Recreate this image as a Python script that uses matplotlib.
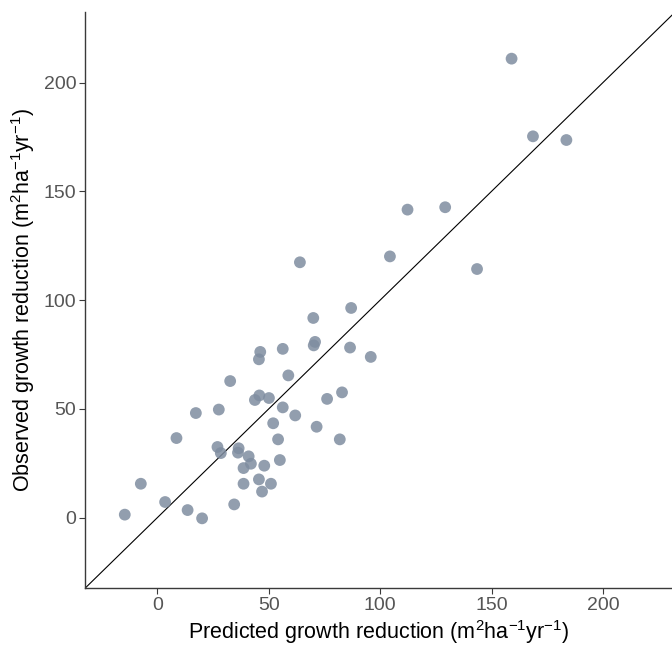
import matplotlib
matplotlib.use('Agg')
import matplotlib.pyplot as plt

plt.rcParams['font.family'] = ['Liberation Sans', 'DejaVu Sans']
plt.rcParams['mathtext.fontset'] = 'custom'
plt.rcParams['mathtext.rm'] = 'Liberation Sans'
plt.rcParams['mathtext.it'] = 'Liberation Sans:italic'

# predicted vs observed growth reduction
predicted = [-14.6, -7.4, 3.5, 8.6, 13.6, 20.1, 17.3, 27.6, 32.7, 27.0,
             28.5, 34.5, 36.5, 36.2, 41.0, 42.0, 38.7, 38.7, 45.6, 47.0,
             48.0, 51.0, 55.0, 54.2, 52.0, 56.3, 61.9, 45.8, 43.8, 50.1,
             45.6, 46.2, 56.3, 58.8, 71.5, 76.2, 82.9, 81.9, 70.2, 70.8,
             86.5, 95.8, 70.0, 64.0, 104.4, 87.0, 159.0, 168.6, 183.6, 112.3,
             129.2, 143.5]
observed = [1.4, 15.6, 7.2, 36.6, 3.5, -0.3, 48.1, 49.7, 62.8, 32.5,
            29.7, 6.1, 31.9, 29.9, 28.2, 24.8, 22.8, 15.6, 17.6, 12.0,
            23.9, 15.6, 26.5, 36.0, 43.4, 50.7, 47.0, 56.2, 54.1, 55.0,
            72.8, 76.2, 77.6, 65.4, 41.8, 54.6, 57.6, 36.0, 79.2, 80.8,
            78.2, 73.9, 91.8, 117.4, 120.1, 96.4, 211.0, 175.3, 173.6, 141.6,
            142.7, 114.3]
ticks = [0, 50, 100, 150, 200]

fig = plt.figure(figsize=(6.72, 6.48), dpi=100)
ax = fig.add_axes([0.127, 0.093, 0.873, 0.889])

ax.scatter(predicted, observed, s=72, color='#7f8da0', alpha=0.85,
           edgecolors='none', zorder=3)
ax.axline((0, 0), slope=1, color='black', linewidth=0.8, zorder=2)

ax.set_xlim(-32.3, 231)
ax.set_ylim(-32.2, 232.6)
ax.set_xticks(ticks)
ax.set_yticks(ticks)

for side in ['top', 'right']:
    ax.spines[side].set_visible(False)
for side in ['left', 'bottom']:
    ax.spines[side].set_color('#3a3a3a')
    ax.spines[side].set_linewidth(1.0)

ax.tick_params(axis='both', direction='out', length=4.5, width=0.8,
               color='#3a3a3a', labelsize=14, labelcolor='#555555', pad=2)

ax.set_xlabel(r'Predicted growth reduction (m$^{2}$ha$^{-1}$yr$^{-1}$)',
              fontsize=15.5, color='black', labelpad=3)
ax.set_ylabel(r'Observed growth reduction (m$^{2}$ha$^{-1}$yr$^{-1}$)',
              fontsize=15.5, color='black', labelpad=5)

fig.savefig('out.png', dpi=100)
